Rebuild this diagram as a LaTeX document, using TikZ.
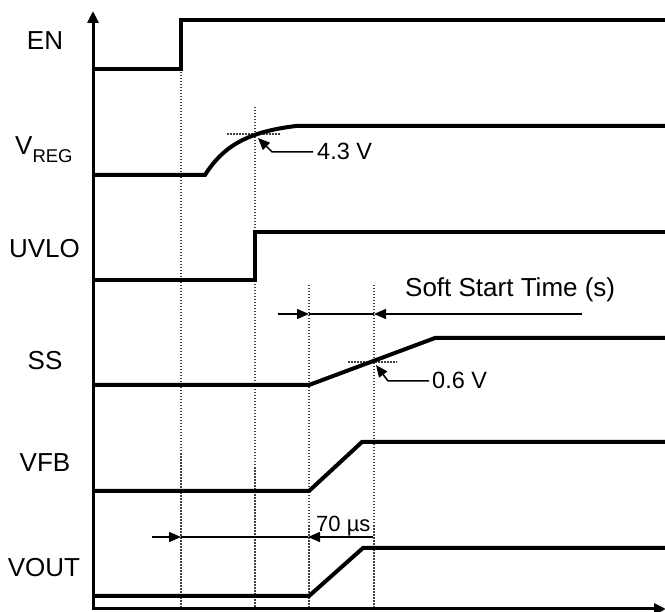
\documentclass[tikz,border=0pt]{standalone}
\usepackage{fontspec}
\setmainfont{Liberation Sans}
\usetikzlibrary{arrows.meta}
\begin{document}
\begin{tikzpicture}[x=1pt,y=-1pt,
  sig/.style={line width=4pt, line join=miter},
  axis/.style={line width=3pt, line join=miter, {Triangle[length=12pt,width=11pt]}-{Triangle[length=12pt,width=11pt]}},
  guide/.style={line width=1.3pt, dash pattern=on 1.5pt off 1.5pt, draw=black!75},
  lbl/.style={font=\fontsize{26}{30}\selectfont, inner sep=0pt, anchor=base},
  note/.style={font=\fontsize{23.5}{28}\selectfont, inner sep=0pt, anchor=base west},
  dim/.style={line width=1.5pt},
  tip/.style={dim, -{Triangle[length=12pt,width=10pt]}},
  span/.style={line width=2.2pt},
]
\useasboundingbox (0,0) rectangle (665,612);

% signal labels
\node[lbl] (en) at (45,50) {EN};
\node[lbl, anchor=base west] (vreg) at (15,155) {V\raisebox{-8pt}{\fontsize{18.5}{20}\selectfont REG}};
\node[lbl] (uvlo) at (44.5,258) {UVLO};
\node[lbl] (ss) at (45,370) {SS};
\node[lbl] (vfb) at (45,472) {VFB};
\node[lbl] (vout) at (44,577) {VOUT};

% guide lines
\draw[guide] (181,69) -- (181,609);
\draw[guide] (255,107) -- (255,609);
\draw[guide] (309,285) -- (309,609);
\draw[guide] (374,285) -- (374,609);
\draw[guide] (227,134) -- (280,134);
\draw[guide] (348,362) -- (397,362);

% signals
\draw[sig] (93,69) -- (181,69) -- (181,20) -- (665,20);
\draw[sig] (93,175) -- (205,175) .. controls (222,148) and (245,132) .. (296,126) -- (665,126);
\draw[sig] (93,280) -- (255,280) -- (255,232) -- (665,232);
\draw[sig] (93,385) -- (309,385) -- (435,338) -- (665,338);
\draw[sig] (93,491) -- (309,491) -- (362,442) -- (665,442);
\draw[sig] (93,596) -- (309,596) -- (363,548) -- (665,548);

% axes
\draw[axis] (93,11) -- (93,609) -- (666,609);

% threshold callouts
\coordinate (p43) at (258,138);
\coordinate (p06) at (376,365);
\node[note] (v43) at (317,160) {4.3 V};
\node[note] (v06) at (432,389) {0.6 V};
\draw[tip] ([xshift=-4pt]v43.west) -- ++(-41,0) -- (p43);
\draw[tip] ([xshift=-3pt]v06.west) -- ++(-41,0) -- (p06);

% soft start time
\node[note, font=\fontsize{26}{30}\selectfont] (sst) at (405,297) {Soft Start Time (s)};
\coordinate (sa) at (278,314);
\coordinate (sb) at (309,314);
\coordinate (sc) at (374,314);
\coordinate (sd) at (582,314);
\draw[tip] (sa) -- (sb);
\draw[span] (sb) -- (sc);
\draw[tip] (sd) -- (sc);

% 70 us delay
\node[note, font=\fontsize{22}{26}\selectfont] (t70) at (316,532) {70 µs};
\coordinate (ta) at (152,537);
\coordinate (tb) at (181,537);
\coordinate (tc) at (308,537);
\coordinate (td) at (373,537);
\draw[tip] (ta) -- (tb);
\draw[span] (tb) -- (tc);
\draw[tip] (td) -- (tc);
\end{tikzpicture}
\end{document}
